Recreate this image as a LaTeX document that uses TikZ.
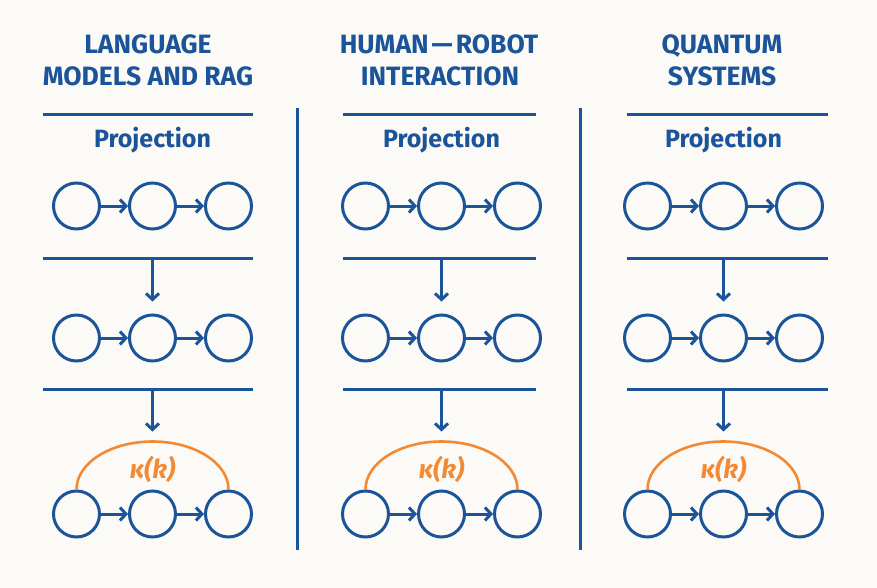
\documentclass[tikz,border=0pt]{standalone}
\usepackage{fontspec}
\setmainfont{Fira Sans}
\usetikzlibrary{arrows.meta}
\definecolor{bluec}{HTML}{1B5499}
\definecolor{orangec}{HTML}{F28A35}
\definecolor{bgc}{HTML}{FBFAF6}
\tikzset{
  circ/.style={circle, draw=bluec, line width=3pt, minimum size=46pt, inner sep=0pt},
  arr/.style={draw=bluec, line width=3pt, -{Straight Barb[length=6pt,width=13pt,line width=3pt]}},
  rule/.style={draw=bluec, line width=3pt},
  sep/.style={draw=bluec, line width=3pt},
  arcline/.style={draw=orangec, line width=2.6pt},
  head/.style={text=bluec, font=\fontsize{26.5}{30}\selectfont\bfseries, anchor=base, inner sep=0pt},
  proj/.style={text=bluec, font=\fontsize{25}{30}\selectfont\bfseries, anchor=base, inner sep=0pt},
  kap/.style={text=orangec, font=\fontsize{26}{30}\selectfont\bfseries\itshape, anchor=base, inner sep=0pt}
}
\begin{document}
\begin{tikzpicture}[x=1pt, y=-1pt]
\fill[bgc] (0,0) rectangle (877,588);
\useasboundingbox (0,0) rectangle (877,588);

% headings
\node[head] (h1a) at (148,54) {LANGUAGE};
\node[head] (h1b) at (148,86) {MODELS AND RAG};
\node[head] (h2a) at (439,54) {HUMAN\kern3pt—\kern3pt ROBOT};
\node[head] (h2b) at (440,86) {INTERACTION};
\node[head] (h3a) at (722,54) {QUANTUM};
\node[head] (h3b) at (722,86) {SYSTEMS};

% separators
\coordinate (s1t) at (297,108);
\coordinate (s1b) at (297,550);
\coordinate (s2t) at (580,108);
\coordinate (s2b) at (580,550);
\draw[sep] (s1t) -- (s1b);
\draw[sep] (s2t) -- (s2b);

\foreach \c/\xc/\ll/\lr in {1/152.5/43/253, 2/441.5/343/536, 3/723.5/627/828} {
  % rules
  \coordinate (\c Lp) at (\ll,115);
  \coordinate (\c Rp) at (\lr,115);
  \coordinate (\c Lb) at (\ll,258);
  \coordinate (\c Rb) at (\lr,258);
  \coordinate (\c Lc) at (\ll,389);
  \coordinate (\c Rc) at (\lr,389);
  \coordinate (\c Mb) at (\xc,258);
  \coordinate (\c Mc) at (\xc,389);
  \draw[rule] (\c Lp) -- (\c Rp);
  \draw[rule] (\c Lb) -- (\c Rb);
  \draw[rule] (\c Lc) -- (\c Rc);
  \node[proj] (p\c) at (\xc,148) {Projection};
  % circles
  \foreach \r/\y in {a/206, b/338, c/514} {
    \node[circ] (\c\r1) at (\xc-76,\y) {};
    \node[circ] (\c\r2) at (\xc,\y) {};
    \node[circ] (\c\r3) at (\xc+76,\y) {};
    \draw[arr] (\c\r1) -- (\c\r2);
    \draw[arr] (\c\r2) -- (\c\r3);
  }
  \draw[arr, shorten >=12pt] (\c Mb) -- (\c b2);
  \draw[arr, shorten >=58pt] (\c Mc) -- (\c c2);
  % orange arc
  \draw[arcline] (\c c1.north) arc[start angle=180, end angle=360, x radius=76, y radius=48];
  \node[kap] (k\c) at (\xc,478) {κ(k)};
}
\end{tikzpicture}
\end{document}
